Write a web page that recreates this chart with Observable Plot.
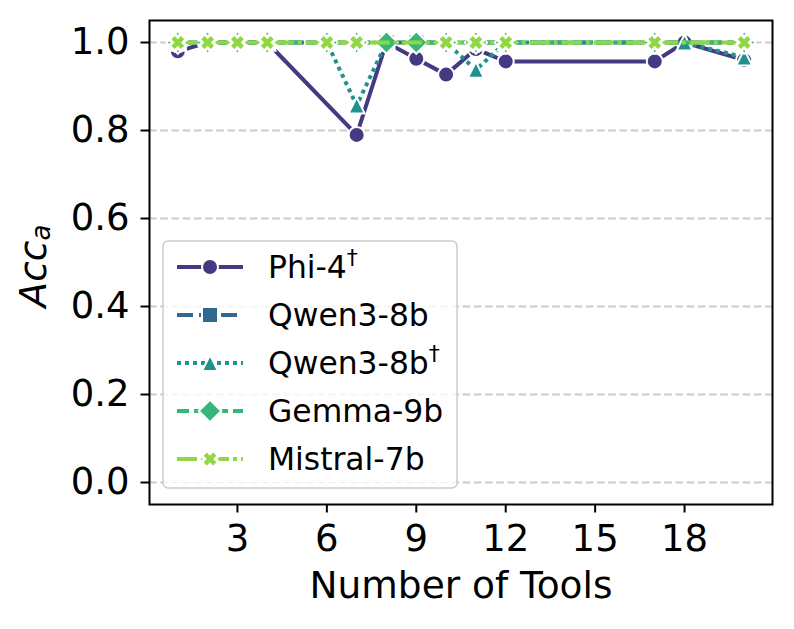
<!DOCTYPE html>
<html><head><meta charset="utf-8">
<script src="https://cdn.jsdelivr.net/npm/d3@7"></script>
<script src="https://cdn.jsdelivr.net/npm/@observablehq/plot@0.6"></script>
<style>
html,body{margin:0;padding:0;background:#fff;}
#chart{width:794px;height:629px;}
</style></head><body><div id="chart"></div>
<script>
// ---- data ----
const seriesNames = ["Phi-4", "Qwen3-8b", "Qwen3-8b", "Gemma-9b", "Mistral-7b"];
const seriesDagger = [true, false, true, false, false];
const phiX = [1, 2, 3, 4, 7, 8, 9, 10, 11, 12, 17, 18, 20];
const phiY = [0.98, 1, 1, 1, 0.79, 1, 0.963, 0.927, 0.985, 0.957, 0.957, 1, 0.96];
const qwenX = [1, 2, 3, 4, 6, 7, 8, 9, 10, 11, 12, 17, 20];
const qwenY = [1, 1, 1, 1, 1, 1, 1, 1, 1, 1, 1, 1, 1];
const qwenDX = [1, 2, 3, 4, 6, 7, 8, 9, 10, 11, 12, 17, 18, 20];
const qwenDY = [1, 1, 1, 1, 1, 0.857, 1, 1, 1, 0.938, 1, 1, 1, 0.966];
const gemmaX = [1, 2, 3, 4, 6, 7, 8, 9, 10, 11, 12, 17, 20];
const gemmaY = [1, 1, 1, 1, 1, 1, 1, 1, 1, 1, 1, 1, 1];
const mistralX = [1, 2, 3, 4, 6, 7, 10, 11, 12, 17, 20];
const mistralY = [1, 1, 1, 1, 1, 1, 1, 1, 1, 1, 1];
const xTicks = [3, 6, 9, 12, 15, 18];
const yTicks = [0, 0.2, 0.4, 0.6, 0.8, 1.0];

// ---- styles ----
const colors = ["#443983", "#31688e", "#21918c", "#35b779", "#90d743"];
const dashes = [null, "16,6", "4,4", "12,5,6,5", "20,4,4,4"];
const LW = 4;
const R = 8;
const TICK_FONT = "37px";

function poly(pts) {
  return {draw(ctx, size) {
    const r = Math.sqrt(size / Math.PI);
    pts.forEach(([a, b], i) => (i ? ctx.lineTo(a * r, b * r) : ctx.moveTo(a * r, b * r)));
    ctx.closePath();
  }};
}
const circleSym = {draw(ctx, size) { const r = Math.sqrt(size / Math.PI); ctx.moveTo(r, 0); ctx.arc(0, 0, r, 0, 2 * Math.PI); ctx.closePath(); }};
const squareSym = poly([[-1, -1], [1, -1], [1, 1], [-1, 1]]);
const triSym = poly([[0, -1], [1, 1], [-1, 1]]);
const s2 = Math.SQRT2;
const diamondSym = poly([[0, -s2], [s2, 0], [0, s2], [-s2, 0]]);
const k = 0.4;
const xSym = poly([[-1, -2], [0, -1], [1, -2], [2, -1], [1, 0], [2, 1], [1, 2], [0, 1], [-1, 2], [-2, 1], [-1, 0], [-2, -1]].map(([a, b]) => [a * k, b * k]));
const symbols = [circleSym, squareSym, triSym, diamondSym, xSym];

const seriesData = [[phiX, phiY], [qwenX, qwenY], [qwenDX, qwenDY], [gemmaX, gemmaY], [mistralX, mistralY]];

function seriesMarks(i) {
  const [xs, ys] = seriesData[i];
  const data = xs.map((x, j) => ({x, y: ys[j]}));
  const isX = i === 4;
  return [
    Plot.line(data, {x: "x", y: "y", stroke: colors[i], strokeWidth: LW,
      strokeDasharray: dashes[i] || undefined, strokeLinecap: dashes[i] ? "butt" : "square", strokeLinejoin: "round"}),
    Plot.dot(data, {x: "x", y: "y", r: R, symbol: i === 0 ? "circle" : symbols[i], fill: colors[i],
      stroke: "white", strokeWidth: isX ? 6 : 2, paintOrder: isX ? "stroke" : "normal"})
  ];
}

const plot = Plot.plot({
  width: 794, height: 629,
  marginLeft: 149, marginRight: 22, marginTop: 20, marginBottom: 125,
  x: {domain: [0.05, 20.95]},
  y: {domain: [-0.05, 1.05]},
  style: {fontFamily: "DejaVu Sans, sans-serif", fontSize: "34px", background: "white", color: "black", overflow: "visible"},
  marks: [
    Plot.ruleY(yTicks, {stroke: "#cccccc", strokeWidth: 2, strokeDasharray: "7.8,3.4"}),
    ...[0, 1, 2, 3, 4].flatMap(seriesMarks),
    Plot.frame({stroke: "black", strokeWidth: 2}),
    Plot.axisX({ticks: xTicks, tickSize: 8.5, tickPadding: 11.5, tickFormat: d3.format("d"), strokeWidth: 2, label: null}),
    Plot.axisY({ticks: yTicks, tickSize: 8.5, tickPadding: 11.5, tickFormat: d3.format(".1f"), strokeWidth: 2, label: null})
  ]
});
document.getElementById("chart").appendChild(plot);

const svg = d3.select(plot);
svg.selectAll('[aria-label$="tick label"]').style("font-size", TICK_FONT).style("font-variant", "normal");
svg.selectAll('[aria-label$="tick label"] text').style("font-size", TICK_FONT);

// axis labels
svg.append("text").attr("x", 461).attr("y", 598).attr("text-anchor", "middle")
  .attr("font-size", 37.5).attr("fill", "black").text("Number of Tools");
const yl = svg.append("text").attr("transform", "translate(46,266) rotate(-90)").attr("text-anchor", "middle")
  .attr("font-size", 37.5).attr("font-style", "italic").attr("fill", "black");
yl.append("tspan").text("Acc");
yl.append("tspan").attr("font-size", 26).attr("dy", 4).text("a");

// legend
const leg = svg.append("g").attr("text-anchor", "start");
leg.append("rect").attr("x", 163).attr("y", 241).attr("width", 294).attr("height", 247).attr("rx", 5)
  .attr("fill", "white").attr("fill-opacity", 0.8).attr("stroke", "#cccccc").attr("stroke-width", 1.5);
function symPath(sym, r) { const p = d3.path(); sym.draw(p, r * r * Math.PI); return p.toString(); }
seriesNames.forEach((name, i) => {
  const cy = 267 + i * 48;
  leg.append("line").attr("x1", 177).attr("x2", 243).attr("y1", cy).attr("y2", cy)
    .attr("stroke", colors[i]).attr("stroke-width", LW)
    .attr("stroke-dasharray", dashes[i]).attr("stroke-linecap", "butt");
  leg.append("path").attr("transform", `translate(210,${cy})`).attr("d", symPath(symbols[i], R))
    .attr("fill", colors[i]).attr("stroke", "white").attr("stroke-width", i === 4 ? 6 : 2)
    .attr("paint-order", i === 4 ? "stroke" : "normal");
  const t = leg.append("text").attr("x", 268).attr("y", cy).attr("dy", "0.36em")
    .attr("text-anchor", "start").attr("font-size", 31.4).attr("fill", "black");
  t.append("tspan").text(name);
  if (seriesDagger[i]) t.append("tspan").attr("font-size", 22).attr("dy", -13).text("†");
});
</script>
</body></html>
